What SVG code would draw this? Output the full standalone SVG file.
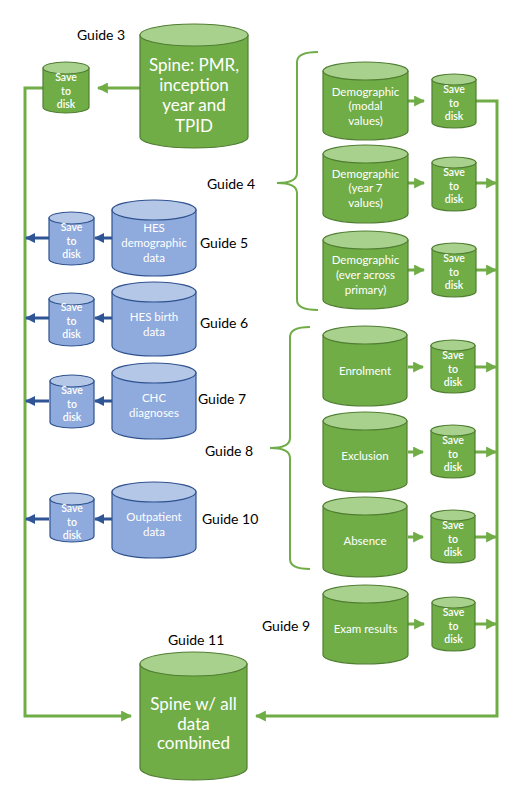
<svg xmlns="http://www.w3.org/2000/svg" width="519" height="789" viewBox="0 0 519 789">
<defs>
<style>
.gb{fill:#70AD47;stroke:#507E32;stroke-width:1.2}
.gt{fill:#A9D18E;stroke:#507E32;stroke-width:1.2}
.bb{fill:#8FAADC;stroke:#2F528F;stroke-width:1.2}
.bt{fill:#B4C7E7;stroke:#2F528F;stroke-width:1.2}
text{font-family:Lato,"Open Sans","Liberation Sans",sans-serif;text-anchor:middle}
.w{fill:#fff}
.big{font-size:17px}
.mid{font-size:11.5px}
.sm{font-size:10.5px;font-weight:600}
.lbl{fill:#000;font-size:14px;text-anchor:start}
.gl{fill:none;stroke:#70AD47;stroke-width:3}
.bl{fill:none;stroke:#2F5597;stroke-width:3}
.br{fill:none;stroke:#70AD47;stroke-width:2}
</style>
<marker id="ga" viewBox="0 0 10 10" refX="9" refY="5" markerUnits="userSpaceOnUse" markerWidth="11" markerHeight="11" orient="auto"><path d="M0,0 L10,5 L0,10 Z" fill="#70AD47"/></marker>
<marker id="ba" viewBox="0 0 10 10" refX="9" refY="5" markerUnits="userSpaceOnUse" markerWidth="10" markerHeight="10" orient="auto"><path d="M0,0 L10,5 L0,10 Z" fill="#2F5597"/></marker>
</defs>

<g id="connectors">
<path class="gl" d="M140,88 H98" marker-end="url(#ga)"/>
<path class="gl" d="M43,88 H25 V716 H131" marker-end="url(#ga)"/>
<path class="gl" d="M476,101 H497 V716 H256" marker-end="url(#ga)"/>
<path class="gl" d="M408,101 H424" marker-end="url(#ga)"/>
<path class="gl" d="M408,183 H424" marker-end="url(#ga)"/>
<path class="gl" d="M408,270 H424" marker-end="url(#ga)"/>
<path class="gl" d="M408,367 H423" marker-end="url(#ga)"/>
<path class="gl" d="M408,452 H423" marker-end="url(#ga)"/>
<path class="gl" d="M408,537 H423" marker-end="url(#ga)"/>
<path class="gl" d="M408,624 H424" marker-end="url(#ga)"/>
<path class="gl" d="M476,183 H496" marker-end="url(#ga)"/>
<path class="gl" d="M476,270 H496" marker-end="url(#ga)"/>
<path class="gl" d="M475,367 H496" marker-end="url(#ga)"/>
<path class="gl" d="M475,452 H496" marker-end="url(#ga)"/>
<path class="gl" d="M475,537 H496" marker-end="url(#ga)"/>
<path class="gl" d="M475,624 H496" marker-end="url(#ga)"/>
<path class="bl" d="M112,238 H95" marker-end="url(#ba)"/>
<path class="bl" d="M49,238 H26" marker-end="url(#ba)"/>
<path class="bl" d="M112,318 H95" marker-end="url(#ba)"/>
<path class="bl" d="M49,318 H26" marker-end="url(#ba)"/>
<path class="bl" d="M112,401 H95" marker-end="url(#ba)"/>
<path class="bl" d="M49,401 H26" marker-end="url(#ba)"/>
<path class="bl" d="M112,519 H95" marker-end="url(#ba)"/>
<path class="bl" d="M49,519 H26" marker-end="url(#ba)"/>
<path class="br" d="M318,52 Q297,52 297,62 V173 Q297,183 277,183 Q297,183 297,193 V300 Q297,310 318,310"/>
<path class="br" d="M310,327 Q290,327 290,337 V438 Q290,448 270,448 Q290,448 290,458 V559 Q290,569 310,569"/>
</g>

<g id="labels">
<text class="lbl" x="77" y="40">Guide 3</text>
<text class="lbl" x="207" y="189">Guide 4</text>
<text class="lbl" x="200" y="248">Guide 5</text>
<text class="lbl" x="200" y="328">Guide 6</text>
<text class="lbl" x="198" y="404">Guide 7</text>
<text class="lbl" x="205" y="456">Guide 8</text>
<text class="lbl" x="262" y="631">Guide 9</text>
<text class="lbl" x="202" y="524">Guide 10</text>
<text class="lbl" x="168" y="645">Guide 11</text>
</g>

<g id="spine">
<path class="gb" d="M140,35 V137 A54,11 0 0 0 248,137 V35 Z"/>
<ellipse class="gt" cx="194" cy="35" rx="54" ry="11"/>
<text class="w big" x="194" y="71">Spine: PMR,</text>
<text class="w big" x="194" y="91">inception</text>
<text class="w big" x="194" y="111">year and</text>
<text class="w big" x="194" y="132">TPID</text>
</g>
<g id="spine-save">
<path class="gb" d="M43,68 V107 A23,6 0 0 0 89,107 V68 Z"/>
<ellipse class="gt" cx="66" cy="68" rx="23" ry="6"/>
<text class="w sm" x="66" y="81">Save</text>
<text class="w sm" x="66" y="95">to</text>
<text class="w sm" x="66" y="108">disk</text>
</g>

<g id="demo-modal">
<path class="gb" d="M323,71 V131 A42.5,9 0 0 0 408,131 V71 Z"/>
<ellipse class="gt" cx="365.5" cy="71" rx="42.5" ry="9"/>
<text class="w mid" x="365.5" y="96">Demographic</text>
<text class="w mid" x="365.5" y="110">(modal</text>
<text class="w mid" x="365.5" y="125">values)</text>
</g>
<g id="demo-modal-save">
<path class="gb" d="M432,79.5 V122.5 A22,5.5 0 0 0 476,122.5 V79.5 Z"/>
<ellipse class="gt" cx="454" cy="79.5" rx="22" ry="5.5"/>
<text class="w sm" x="454" y="93">Save</text>
<text class="w sm" x="454" y="107">to</text>
<text class="w sm" x="454" y="120">disk</text>
</g>

<g id="demo-y7">
<path class="gb" d="M323,154 V214 A42.5,9 0 0 0 408,214 V154 Z"/>
<ellipse class="gt" cx="365.5" cy="154" rx="42.5" ry="9"/>
<text class="w mid" x="365.5" y="178">Demographic</text>
<text class="w mid" x="365.5" y="192">(year 7</text>
<text class="w mid" x="365.5" y="207">values)</text>
</g>
<g id="demo-y7-save">
<path class="gb" d="M432,162.5 V205.5 A22,5.5 0 0 0 476,205.5 V162.5 Z"/>
<ellipse class="gt" cx="454" cy="162.5" rx="22" ry="5.5"/>
<text class="w sm" x="454" y="176">Save</text>
<text class="w sm" x="454" y="190">to</text>
<text class="w sm" x="454" y="203">disk</text>
</g>

<g id="demo-ever">
<path class="gb" d="M323,240 V300 A42.5,9 0 0 0 408,300 V240 Z"/>
<ellipse class="gt" cx="365.5" cy="240" rx="42.5" ry="9"/>
<text class="w mid" x="365.5" y="264">Demographic</text>
<text class="w mid" x="365.5" y="279">(ever across</text>
<text class="w mid" x="365.5" y="294">primary)</text>
</g>
<g id="demo-ever-save">
<path class="gb" d="M432,248.5 V291.5 A22,5.5 0 0 0 476,291.5 V248.5 Z"/>
<ellipse class="gt" cx="454" cy="248.5" rx="22" ry="5.5"/>
<text class="w sm" x="454" y="262">Save</text>
<text class="w sm" x="454" y="276">to</text>
<text class="w sm" x="454" y="289">disk</text>
</g>

<g id="enrolment">
<path class="gb" d="M323,335 V397 A42,9 0 0 0 407,397 V335 Z"/>
<ellipse class="gt" cx="365" cy="335" rx="42" ry="9"/>
<text class="w mid" x="365" y="375">Enrolment</text>
</g>
<g id="enrolment-save">
<path class="gb" d="M431,345.5 V387.5 A22,5.5 0 0 0 475,387.5 V345.5 Z"/>
<ellipse class="gt" cx="453" cy="345.5" rx="22" ry="5.5"/>
<text class="w sm" x="453" y="359">Save</text>
<text class="w sm" x="453" y="373">to</text>
<text class="w sm" x="453" y="386">disk</text>
</g>

<g id="exclusion">
<path class="gb" d="M323,421 V483 A42,9 0 0 0 407,483 V421 Z"/>
<ellipse class="gt" cx="365" cy="421" rx="42" ry="9"/>
<text class="w mid" x="365" y="460">Exclusion</text>
</g>
<g id="exclusion-save">
<path class="gb" d="M431,430.5 V472.5 A22,5.5 0 0 0 475,472.5 V430.5 Z"/>
<ellipse class="gt" cx="453" cy="430.5" rx="22" ry="5.5"/>
<text class="w sm" x="453" y="444">Save</text>
<text class="w sm" x="453" y="458">to</text>
<text class="w sm" x="453" y="471">disk</text>
</g>

<g id="absence">
<path class="gb" d="M323,506 V568 A42,9 0 0 0 407,568 V506 Z"/>
<ellipse class="gt" cx="365" cy="506" rx="42" ry="9"/>
<text class="w mid" x="365" y="545">Absence</text>
</g>
<g id="absence-save">
<path class="gb" d="M431,515.5 V557.5 A22,5.5 0 0 0 475,557.5 V515.5 Z"/>
<ellipse class="gt" cx="453" cy="515.5" rx="22" ry="5.5"/>
<text class="w sm" x="453" y="529">Save</text>
<text class="w sm" x="453" y="543">to</text>
<text class="w sm" x="453" y="556">disk</text>
</g>

<g id="exam">
<path class="gb" d="M323,594 V655 A42.5,9 0 0 0 408,655 V594 Z"/>
<ellipse class="gt" cx="365.5" cy="594" rx="42.5" ry="9"/>
<text class="w mid" x="365.5" y="633">Exam results</text>
</g>
<g id="exam-save">
<path class="gb" d="M432,602.5 V645.5 A21.5,5.5 0 0 0 475,645.5 V602.5 Z"/>
<ellipse class="gt" cx="453.5" cy="602.5" rx="21.5" ry="5.5"/>
<text class="w sm" x="453.5" y="616">Save</text>
<text class="w sm" x="453.5" y="630">to</text>
<text class="w sm" x="453.5" y="643">disk</text>
</g>

<g id="hes-demo">
<path class="bb" d="M112,210 V266 A42,10 0 0 0 196,266 V210 Z"/>
<ellipse class="bt" cx="154" cy="210" rx="42" ry="10"/>
<text class="w mid" x="154" y="232">HES</text>
<text class="w mid" x="154" y="247">demographic</text>
<text class="w mid" x="154" y="262">data</text>
</g>
<g id="hes-demo-save">
<path class="bb" d="M49,218 V259 A22.5,6 0 0 0 94,259 V218 Z"/>
<ellipse class="bt" cx="71.5" cy="218" rx="22.5" ry="6"/>
<text class="w sm" x="71.5" y="231">Save</text>
<text class="w sm" x="71.5" y="245">to</text>
<text class="w sm" x="71.5" y="258">disk</text>
</g>

<g id="hes-birth">
<path class="bb" d="M112,292 V346 A42,10 0 0 0 196,346 V292 Z"/>
<ellipse class="bt" cx="154" cy="292" rx="42" ry="10"/>
<text class="w mid" x="154" y="321">HES birth</text>
<text class="w mid" x="154" y="336">data</text>
</g>
<g id="hes-birth-save">
<path class="bb" d="M49,299 V340 A22.5,6 0 0 0 94,340 V299 Z"/>
<ellipse class="bt" cx="71.5" cy="299" rx="22.5" ry="6"/>
<text class="w sm" x="71.5" y="311">Save</text>
<text class="w sm" x="71.5" y="325">to</text>
<text class="w sm" x="71.5" y="338">disk</text>
</g>

<g id="chc">
<path class="bb" d="M112,373 V429 A42,10 0 0 0 196,429 V373 Z"/>
<ellipse class="bt" cx="154" cy="373" rx="42" ry="10"/>
<text class="w mid" x="154" y="402">CHC</text>
<text class="w mid" x="154" y="417">diagnoses</text>
</g>
<g id="chc-save">
<path class="bb" d="M50,381 V422 A22,6 0 0 0 94,422 V381 Z"/>
<ellipse class="bt" cx="72" cy="381" rx="22" ry="6"/>
<text class="w sm" x="72" y="394">Save</text>
<text class="w sm" x="72" y="408">to</text>
<text class="w sm" x="72" y="421">disk</text>
</g>

<g id="outpatient">
<path class="bb" d="M112,492 V548 A42,10 0 0 0 196,548 V492 Z"/>
<ellipse class="bt" cx="154" cy="492" rx="42" ry="10"/>
<text class="w mid" x="154" y="521">Outpatient</text>
<text class="w mid" x="154" y="536">data</text>
</g>
<g id="outpatient-save">
<path class="bb" d="M50,499 V536 A22,6 0 0 0 94,536 V499 Z"/>
<ellipse class="bt" cx="72" cy="499" rx="22" ry="6"/>
<text class="w sm" x="72" y="512">Save</text>
<text class="w sm" x="72" y="526">to</text>
<text class="w sm" x="72" y="539">disk</text>
</g>

<g id="combined">
<path class="gb" d="M140,664 V768 A53.5,12 0 0 0 247,768 V664 Z"/>
<ellipse class="gt" cx="193.5" cy="664" rx="53.5" ry="12"/>
<text class="w big" x="193.5" y="710">Spine w/ all</text>
<text class="w big" x="193.5" y="730">data</text>
<text class="w big" x="193.5" y="749">combined</text>
</g>
</svg>
